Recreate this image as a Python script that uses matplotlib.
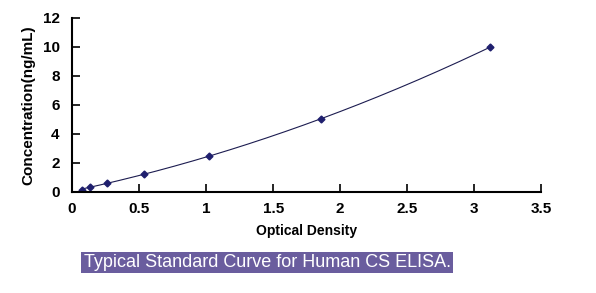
import numpy as np
import matplotlib.pyplot as plt

# standard curve points
od = [0.075, 0.134, 0.26, 0.54, 1.02, 1.86, 3.12]
conc = [0.156, 0.3125, 0.625, 1.25, 2.5, 5.0, 10.0]
xticks = [0, 0.5, 1, 1.5, 2, 2.5, 3, 3.5]
yticks = [0, 2, 4, 6, 8, 10, 12]
caption = "Typical Standard Curve for Human CS ELISA."

plt.rcParams['font.family'] = ['Liberation Sans', 'DejaVu Sans']

fig = plt.figure(figsize=(5.96, 2.93), dpi=100)
ax = fig.add_axes([0.121, 0.345, 0.787, 0.594])

# fitted curve through the standards
coef = np.polyfit(od, conc, 2)
xs = np.linspace(min(od), max(od), 200)
ax.plot(xs, np.polyval(coef, xs), color='#1c1c50', lw=0.8)
ax.plot(od, conc, 'D', color='#1f1f6e', ms=3.5)

ax.set_xlim(0, 3.5)
ax.set_ylim(0, 12)
ax.set_xticks(xticks)
ax.set_xticklabels([f'{t:g}' for t in xticks], fontweight='bold', fontsize=11)
ax.set_yticks(yticks)
ax.set_yticklabels([str(t) for t in yticks], fontweight='bold', fontsize=11)
ax.tick_params(axis='x', direction='in', length=6, width=1.2, pad=7)
ax.tick_params(axis='y', direction='in', length=6, width=1.2, pad=9)
for side in ['top', 'right']:
    ax.spines[side].set_visible(False)
for side in ['left', 'bottom']:
    ax.spines[side].set_linewidth(1.5)
ax.set_xlabel('Optical Density', fontweight='bold', fontsize=10, labelpad=6)
ax.set_ylabel('Concentration(ng/mL)', fontweight='bold', fontsize=11, labelpad=5)

fig.text(0.448, 0.105, caption, color='white', fontsize=13, ha='center', va='center',
         bbox=dict(boxstyle='square,pad=0.12', facecolor='#6a5d9e', edgecolor='none'))

fig.savefig('out.png', dpi=100, facecolor='white')
